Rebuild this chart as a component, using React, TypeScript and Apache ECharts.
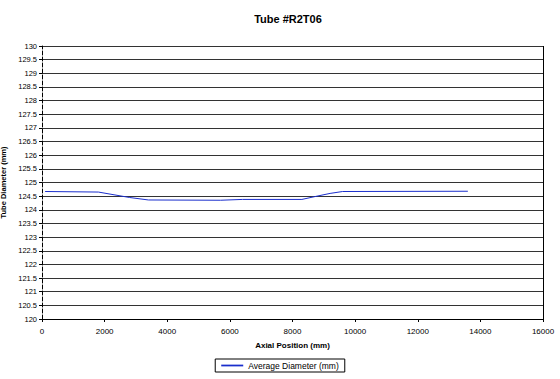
import React, { useEffect, useRef } from "react";
import * as echarts from "echarts";

const positions = [100, 1800, 2300, 2800, 3400, 5700, 6400, 8300, 8700, 9200, 9600, 13600];
const diameters = [124.67, 124.65, 124.55, 124.45, 124.36, 124.35, 124.38, 124.38, 124.48, 124.6, 124.67, 124.68];
const seriesName = "Average Diameter (mm)";

export default function App() {
  const ref = useRef<HTMLDivElement>(null);
  useEffect(() => {
    const chart = echarts.init(ref.current!, null, { renderer: "svg" });
    const font = "Liberation Sans, Arial, sans-serif";
    chart.setOption({
      animation: false,
      backgroundColor: "#fff",
      title: {
        text: "Tube #R2T06",
        left: 283,
        top: 8,
        textAlign: "center",
        textStyle: { fontFamily: font, fontSize: 11, fontWeight: "bold", color: "#000" },
      },
      legend: {
        bottom: 7,
        left: "center",
        data: [seriesName],
        icon: "path://M0,0H1V0.08H0Z",
        itemWidth: 22,
        itemHeight: 3,
        itemGap: 4,
        padding: [2, 6, 2, 6],
        borderColor: "#000",
        borderWidth: 1,
        borderRadius: 0,
        textStyle: { fontFamily: font, fontSize: 8.5, color: "#000" },
      },
      grid: {
        left: 42, right: 17, top: 46, bottom: 60,
        containLabel: false,
        outerBoundsMode: "none",
        show: false,
      },
      xAxis: {
        type: "value",
        min: 0,
        max: 16000,
        interval: 2000,
        name: "Axial Position (mm)",
        nameLocation: "middle",
        nameGap: 22,
        nameTextStyle: { fontFamily: font, fontSize: 8, fontWeight: "bold", color: "#000" },
        axisLine: { show: true, lineStyle: { color: "#000", width: 1 } },
        axisTick: { show: true, length: 3, inside: false, lineStyle: { color: "#000" } },
        axisLabel: { fontFamily: font, fontSize: 8, color: "#000", margin: 8, formatter: (v: number) => String(v) },
        splitLine: { show: false },
      },
      yAxis: {
        type: "value",
        min: 120,
        max: 130,
        interval: 0.5,
        name: "Tube Diameter (mm)",
        nameLocation: "middle",
        nameGap: 27,
        nameRotate: 90,
        nameTextStyle: { fontFamily: font, fontSize: 7.5, fontWeight: "bold", color: "#000" },
        axisLine: { show: true, lineStyle: { color: "#000", width: 1, type: "dashed" } },
        axisTick: { show: true, length: 3, lineStyle: { color: "#000" } },
        axisLabel: { fontFamily: font, fontSize: 7.5, color: "#000", margin: 5, formatter: (v: number) => String(v) },
        splitLine: { show: true, lineStyle: { color: "#333", width: 1 } },
      },
      series: [
        {
          name: seriesName,
          type: "line",
          data: positions.map((p, i) => [p, diameters[i]]),
          showSymbol: false,
          symbol: "none",
          lineStyle: { color: "#1a2ecc", width: 1 },
          itemStyle: { color: "#1a2ecc" },
        },
        {
          type: "line",
          data: [],
          markLine: {
            silent: true,
            symbol: "none",
            label: { show: false },
            lineStyle: { color: "#000", type: "solid", width: 1 },
            data: [{ xAxis: 16000 }],
          },
        },
      ],
    });
    return () => chart.dispose();
  }, []);
  return <div ref={ref} style={{ width: 560, height: 379, position: "absolute", left: 0, top: 0 }} />;
}
